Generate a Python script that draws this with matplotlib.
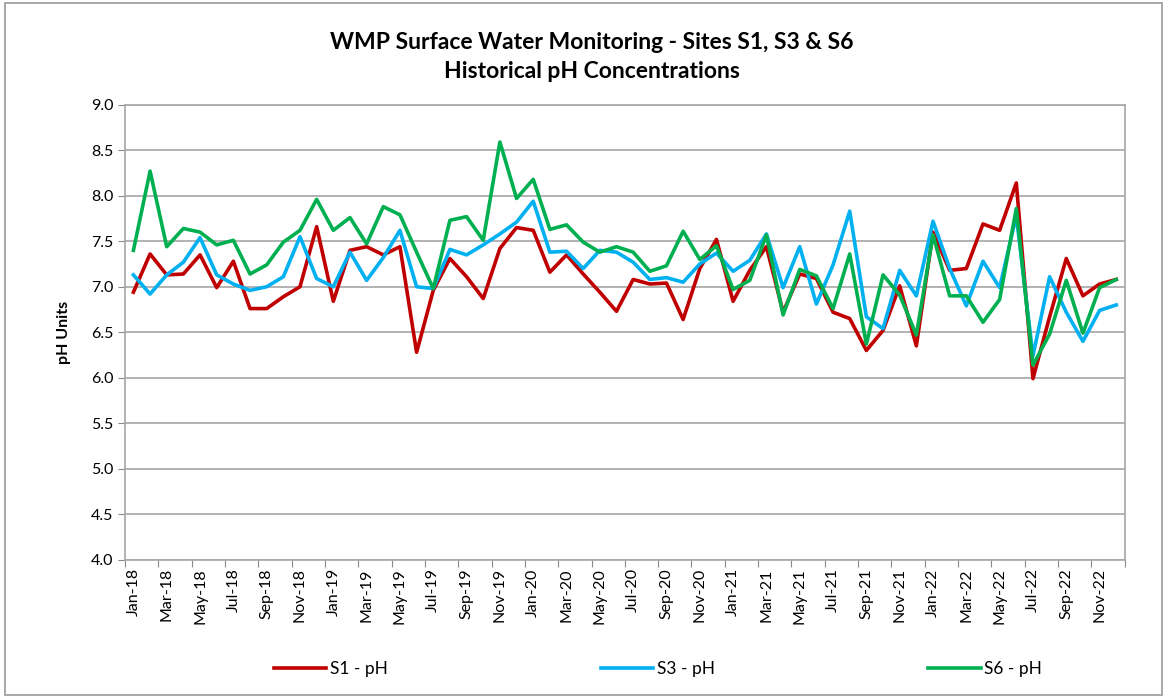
import matplotlib
matplotlib.use("Agg")
import matplotlib.pyplot as plt
from matplotlib.patches import Rectangle

plt.rcParams["font.family"] = ["Lato", "DejaVu Sans"]

# Meses Jan-18 .. Dec-22
meses = ["Jan", "Feb", "Mar", "Apr", "May", "Jun",
         "Jul", "Aug", "Sep", "Oct", "Nov", "Dec"]
anios = ["18", "19", "20", "21", "22"]
etiquetas = [f"{m}-{a}" for a in anios for m in meses]

s1_ph = [6.94, 7.36, 7.13, 7.14, 7.35, 6.99, 7.28, 6.76, 6.76, 6.89, 7.00, 7.66,
         6.84, 7.40, 7.44, 7.35, 7.44, 6.28, 6.96, 7.31, 7.11, 6.87, 7.42, 7.65,
         7.62, 7.16, 7.35, 7.14, 6.94, 6.73, 7.08, 7.03, 7.04, 6.64, 7.20, 7.52,
         6.84, 7.18, 7.44, 6.72, 7.14, 7.09, 6.72, 6.65, 6.30, 6.52, 7.01, 6.35,
         7.60, 7.18, 7.20, 7.69, 7.62, 8.14, 5.99, 6.67, 7.31, 6.90, 7.03, 7.08]

s3_ph = [7.13, 6.92, 7.13, 7.27, 7.54, 7.13, 7.03, 6.96, 7.00, 7.11, 7.55, 7.09,
         7.00, 7.38, 7.07, 7.32, 7.62, 7.00, 6.98, 7.41, 7.35, 7.46, 7.58, 7.71,
         7.94, 7.38, 7.39, 7.20, 7.40, 7.38, 7.27, 7.08, 7.10, 7.05, 7.25, 7.37,
         7.17, 7.29, 7.58, 6.99, 7.44, 6.81, 7.24, 7.83, 6.67, 6.54, 7.18, 6.90,
         7.72, 7.20, 6.79, 7.28, 6.99, 7.78, 6.24, 7.11, 6.72, 6.40, 6.74, 6.80]

s6_ph = [7.40, 8.27, 7.44, 7.64, 7.60, 7.46, 7.51, 7.14, 7.24, 7.49, 7.62, 7.96,
         7.62, 7.76, 7.47, 7.88, 7.79, 7.38, 6.98, 7.73, 7.77, 7.51, 8.59, 7.97,
         8.18, 7.63, 7.68, 7.49, 7.38, 7.44, 7.38, 7.17, 7.23, 7.61, 7.30, 7.45,
         6.97, 7.07, 7.57, 6.69, 7.19, 7.12, 6.76, 7.36, 6.37, 7.13, 6.91, 6.47,
         7.57, 6.90, 6.90, 6.61, 6.86, 7.86, 6.14, 6.48, 7.07, 6.49, 6.99, 7.08]

fig = plt.figure(figsize=(11.69, 6.98), dpi=100)
ax = fig.add_axes([0.107, 0.198, 0.855, 0.652])

x = range(len(etiquetas))
ax.plot(x, s1_ph, color="#C00000", linewidth=2.6, label="S1 - pH")
ax.plot(x, s3_ph, color="#00B0F0", linewidth=2.6, label="S3 - pH")
ax.plot(x, s6_ph, color="#00B050", linewidth=2.6, label="S6 - pH")

ax.set_xlim(-0.5, len(etiquetas) - 0.5)
ax.set_ylim(4.0, 9.0)
ax.set_yticks([4.0 + 0.5 * i for i in range(11)])
ax.set_yticklabels([f"{4.0 + 0.5 * i:.1f}" for i in range(11)], fontsize=11.5)
ax.grid(axis="y", color="#A6A6A6", linewidth=1.2)
ax.set_axisbelow(True)

# Marcas entre categorías, etiquetas cada dos meses
ax.set_xticks([i - 0.5 for i in range(0, len(etiquetas) + 1, 2)])
ax.set_xticklabels([])
ax.set_xticks(range(0, len(etiquetas), 2), minor=True)
ax.set_xticklabels(etiquetas[::2], minor=True, rotation=90, fontsize=11.5)
ax.tick_params(axis="x", which="major", length=5, color="#888888")
ax.tick_params(axis="x", which="minor", length=0, pad=6)
ax.tick_params(axis="y", length=5, color="#888888", direction="out")

for lado in ["left", "bottom", "right", "top"]:
    ax.spines[lado].set_color("#A6A6A6")
    ax.spines[lado].set_linewidth(1.2)

ax.set_ylabel("pH Units", fontsize=11.5, fontweight="bold", labelpad=14)

fig.text(0.506, 0.918, "WMP Surface Water Monitoring - Sites S1, S3 & S6\nHistorical pH Concentrations",
         ha="center", va="center", fontsize=16.5, fontweight="bold", linespacing=1.45)

fig.legend(loc="center", bbox_to_anchor=(0.563, 0.042), ncol=3, frameon=False,
           fontsize=12.5, handlelength=3.0, handletextpad=0.2, columnspacing=12.3)

fig.patches.append(Rectangle((0.004, 0.004), 0.99, 0.992, transform=fig.transFigure,
                             fill=False, edgecolor="#9A9A9A", linewidth=1.2))

fig.savefig("out.png", dpi=100)
